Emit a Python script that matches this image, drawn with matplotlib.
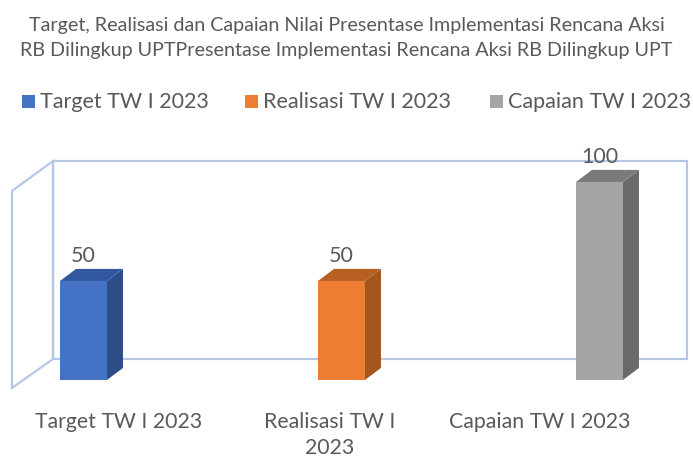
import matplotlib.pyplot as plt
from matplotlib.patches import Polygon, Rectangle

# dane
categories = ["Target TW I 2023", "Realisasi TW I 2023", "Capaian TW I 2023"]
tick_labels = ["Target TW I 2023", "Realisasi TW I\n2023", "Capaian TW I 2023"]
values = [50, 50, 100]
front_colors = ["#4472C4", "#ED7D31", "#A5A5A5"]
side_colors = ["#2C4D86", "#A5561F", "#6A6A6A"]
top_colors = ["#3258A0", "#B85F22", "#7A7A7A"]
title = ("Target, Realisasi dan Capaian Nilai Presentase Implementasi Rencana Aksi\n"
         "RB Dilingkup UPTPresentase Implementasi Rencana Aksi RB Dilingkup UPT")

plt.rcParams['font.family'] = ['Lato', 'DejaVu Sans']
txt = "#595959"
wall = "#B4C7E7"

fig = plt.figure(figsize=(6.93, 4.59), dpi=100)
ax = fig.add_axes([0, 0, 1, 1])
# skala: kategoria co 258 px, 1 jednostka = 1.98 px
ax.set_xlim(-0.3236, 2.3624)
ax.set_ylim(-39.9, 191.9)
ax.axis('off')

bw = 0.182   # szerokość słupka
dx = 0.062   # głębia (x)
dy = 6.1     # głębia (y)

# ściany
ax.add_patch(Rectangle((-0.118, 10.6), 2.457, 100, fill=False, ec=wall, lw=1.6))
ax.add_patch(Polygon([(-0.277, -4), (-0.118, 10.6), (-0.118, 110.6), (-0.277, 95.5)],
                     closed=True, fill=False, ec=wall, lw=1.6))

for i, v in enumerate(values):
    x0 = i - bw / 2
    x1 = i + bw / 2
    ax.add_patch(Polygon([(x1, 0), (x1 + dx, dy), (x1 + dx, v + dy), (x1, v)],
                         closed=True, fc=side_colors[i], ec='none'))
    ax.add_patch(Polygon([(x0, v), (x1, v), (x1 + dx, v + dy), (x0 + dx, v + dy)],
                         closed=True, fc=top_colors[i], ec='none'))
    ax.add_patch(Rectangle((x0, 0), bw, v, fc=front_colors[i], ec='none'))
    ax.text(i, v + dy + 1.5, str(v), ha='center', va='bottom', fontsize=15.5, color=txt)

label_shift = [0.137, -0.045, -0.233]
for i, lab in enumerate(tick_labels):
    ax.text(i + label_shift[i], -16.0, lab, ha='center', va='top', fontsize=15.3,
            color=txt, linespacing=1.42)

fig.text(0.5, 0.963, title, ha='center', va='top', fontsize=14.2, color=txt, linespacing=1.55)

# legenda
leg_x = [0.032, 0.354, 0.707]
for i, c in enumerate(categories):
    fig.patches.append(Rectangle((leg_x[i], 0.764), 0.019, 0.03, fc=front_colors[i], ec='none',
                                 transform=fig.transFigure, figure=fig))
    fig.text(leg_x[i] + 0.026, 0.778, c, ha='left', va='center', fontsize=15.5, color=txt)

fig.savefig("out.png", dpi=100)
